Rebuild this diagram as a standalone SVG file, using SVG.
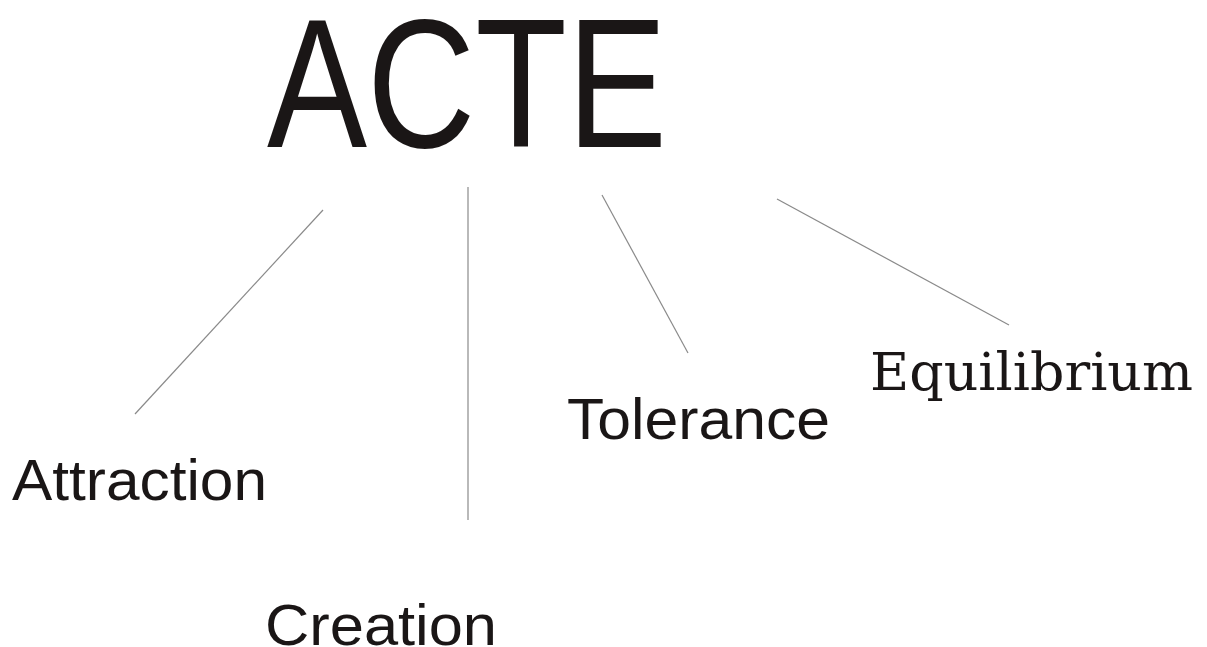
<svg xmlns="http://www.w3.org/2000/svg" width="1207" height="647" viewBox="0 0 1207 647">
<style>
.sans{font-family:"Liberation Sans","DejaVu Sans",Arial,sans-serif;fill:#1a1616}
.serif{font-family:"DejaVu Serif","Liberation Serif",serif;fill:#1a1616}
.conn line{stroke:#8a8a8a;stroke-width:1.2;fill:none}
</style>
<rect width="1207" height="647" fill="#ffffff"/>
<g id="connectors" class="conn">
<line x1="323" y1="210" x2="135" y2="414"/>
<line x1="468" y1="187" x2="468" y2="520"/>
<line x1="602" y1="195" x2="688" y2="353"/>
<line x1="777" y1="199" x2="1009" y2="325"/>
</g>
<g id="node-acte"><text class="sans" x="267" y="147" font-size="184" textLength="400" lengthAdjust="spacingAndGlyphs">ACTE</text></g>
<g id="node-attraction"><text class="sans" x="12" y="500" font-size="58" textLength="255" lengthAdjust="spacingAndGlyphs">Attraction</text></g>
<g id="node-creation"><text class="sans" x="265" y="645" font-size="58" textLength="232" lengthAdjust="spacingAndGlyphs">Creation</text></g>
<g id="node-tolerance"><text class="sans" x="567" y="439" font-size="58" textLength="263" lengthAdjust="spacingAndGlyphs">Tolerance</text></g>
<g id="node-equilibrium"><text class="serif" x="870" y="390" font-size="52" textLength="323" lengthAdjust="spacingAndGlyphs">Equilibrium</text></g>
</svg>
